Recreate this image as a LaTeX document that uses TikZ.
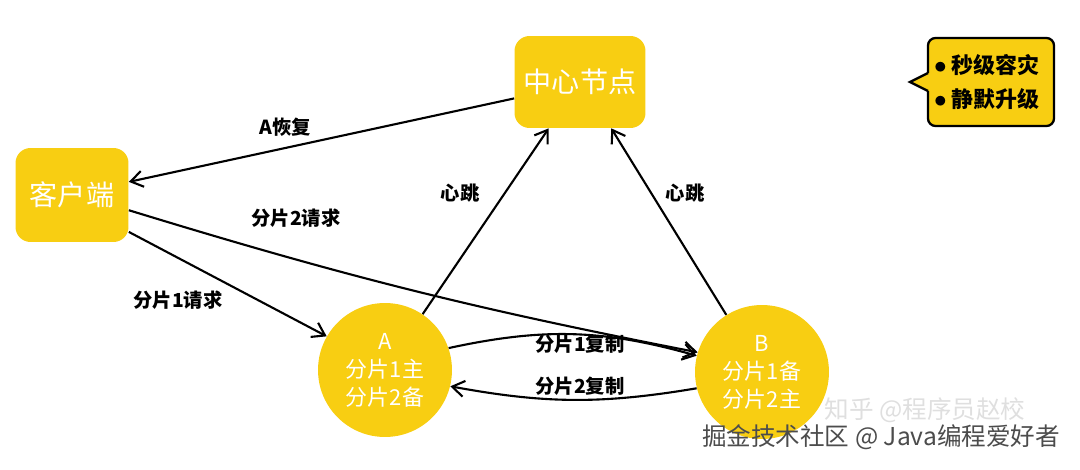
\documentclass[tikz,border=0pt]{standalone}
\usepackage{fontspec}
\setmainfont{Noto Sans CJK SC}
\usepackage{xcolor}
\usepackage{tikz}
\usetikzlibrary{arrows.meta}
\definecolor{nodeyellow}{RGB}{248,206,18}

\begin{document}
\begin{tikzpicture}[x=0.02cm, y=-0.02cm, >={Straight Barb[length=2.4mm,width=3.2mm]},
	box/.style={fill=nodeyellow, rounded corners=3mm, text=white, font=\fontsize{16}{18}\selectfont},
	shard/.style={circle, fill=nodeyellow, minimum size=2.68cm, inner sep=0pt, text=white, align=center, font=\fontsize{12.5}{16}\selectfont},
	link/.style={->, line width=1.2pt},
	lbl/.style={font=\bfseries\fontsize{11}{12}\selectfont}]
		\useasboundingbox (0,0) rectangle (1080,470);

		% 节点
		\node[box, minimum width=2.26cm, minimum height=1.88cm] (client) at (72,195) {客户端};
		\node[box, minimum width=2.62cm, minimum height=1.84cm] (center) at (580,82) {中心节点};
		\node[shard] (A) at (385,370) {A\\分片1主\\分片2备};
		\node[shard] (B) at (762,372) {B\\分片1备\\分片2主};

		% 说明框
		\draw[line width=1.3pt, fill=nodeyellow, rounded corners=1.5mm]
			(928,73) -- (928,38) -- (1054,38) -- (1054,126) -- (928,126) -- (928,91);
		\fill[nodeyellow] (928.5,73) -- (910,82) -- (928.5,91) -- cycle;
		\draw[line width=1.3pt, line join=miter] (928,73) -- (910,82) -- (928,91);
		\node[font=\bfseries\fontsize{12.5}{19}\selectfont, align=left] (legend) at (987,82)
			{{\fontsize{15}{19}\selectfont$\bullet$}\ 秒级容灾\\{\fontsize{15}{19}\selectfont$\bullet$}\ 静默升级};

		% 连线
		\draw[link] (center.194) -- (client.13);
		\draw[link] (client.-15) to[bend right=3] (B.163);
		\draw[link] (client.-33) -- (A.150);
		\draw[link] (A.56) -- (center.236);
		\draw[link] (B.122) -- (center.-56);
		\draw[link] (A.19) to[bend left=14] (B.166);
		\draw[link] (B.194) to[bend left=10] (A.-14);

		% 标注
		\node[lbl] (l1) at (285,127) {A恢复};
		\node[lbl] (l2) at (296,218) {分片2请求};
		\node[lbl] (l3) at (178,300) {分片1请求};
		\node[lbl] (l4) at (460,193) {心跳};
		\node[lbl] (l5) at (685,193) {心跳};
		\node[lbl] (l6) at (580,344) {分片1复制};
		\node[lbl] (l7) at (580,386) {分片2复制};

		% 水印
		\node[text=gray!25, font=\fontsize{14}{16}\selectfont] (wm1) at (925,410) {知乎 @程序员赵校};
		\node[text=gray!60!black, font=\fontsize{14}{16}\selectfont] (wm2) at (881,437) {掘金技术社区 @ Java编程爱好者};
	\end{tikzpicture}
\end{document}
